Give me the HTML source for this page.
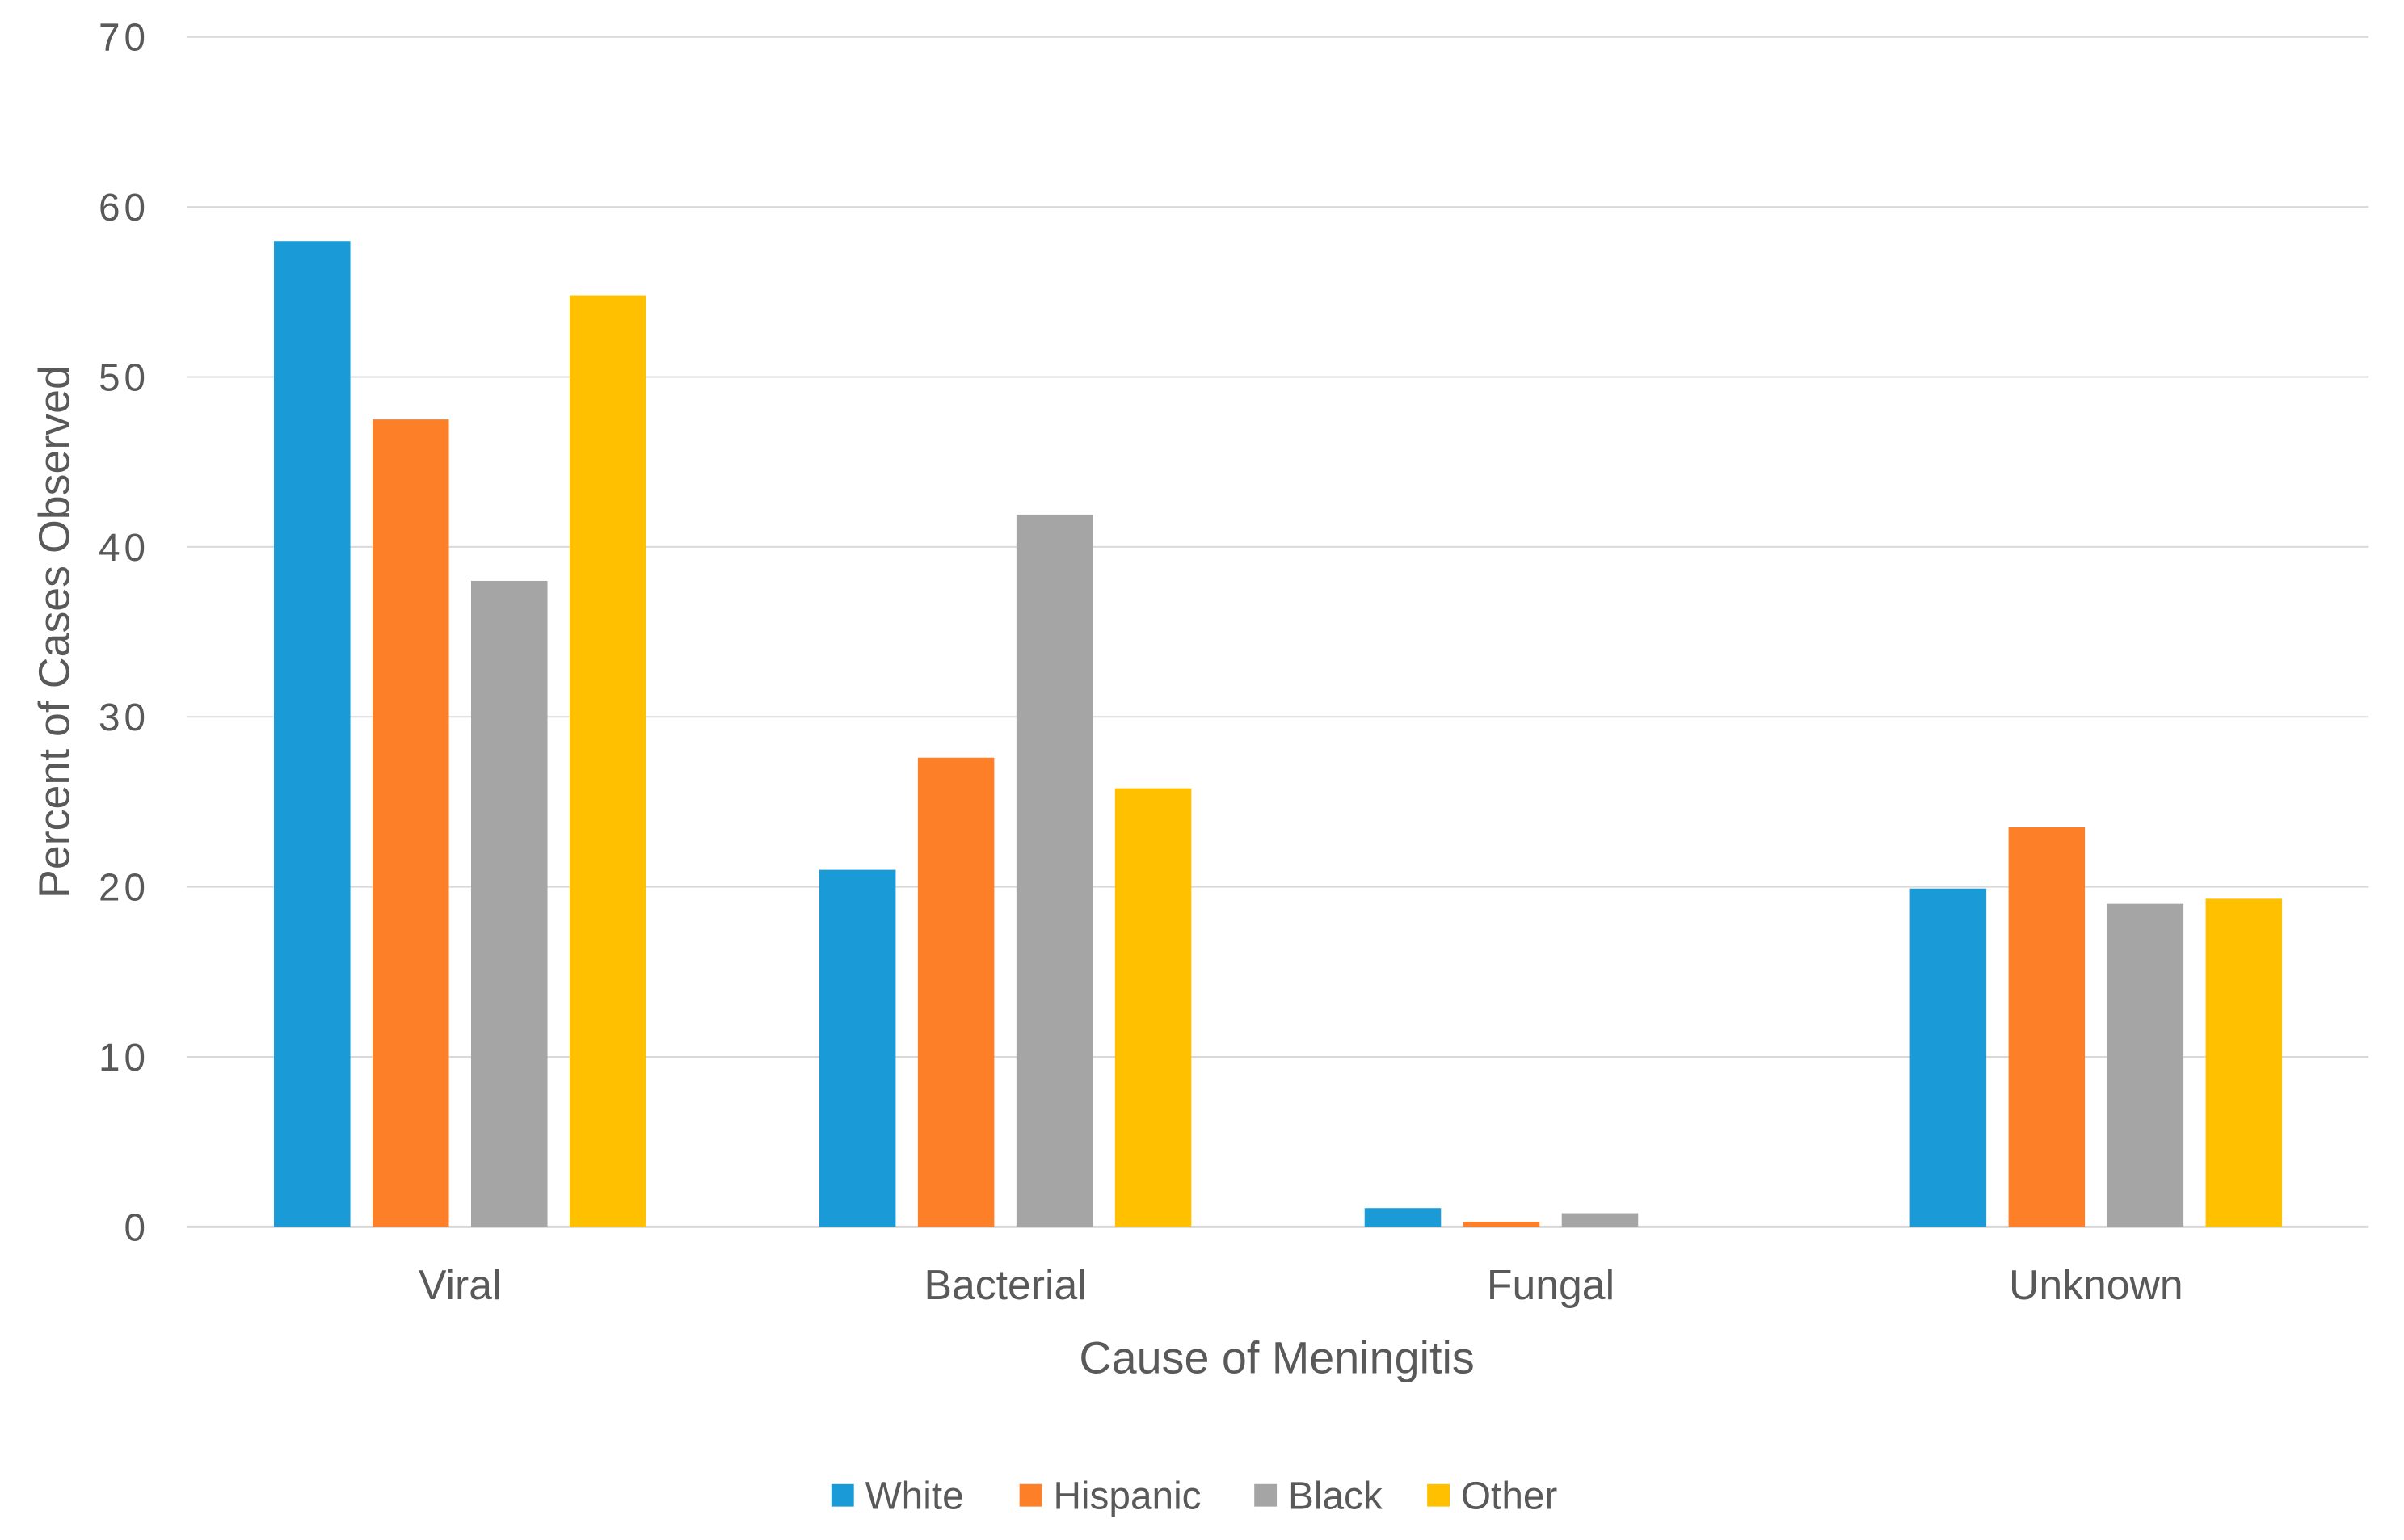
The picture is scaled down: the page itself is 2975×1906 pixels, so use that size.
<!DOCTYPE html>
<html><head><meta charset="utf-8"><style>
html,body{margin:0;padding:0;background:#fff;}
svg{display:block;}
text{font-family:"Liberation Sans",sans-serif;fill:#595959;}
</style></head><body>
<svg id="chart" width="2975" height="1906" viewBox="0 0 2975 1906" xmlns="http://www.w3.org/2000/svg">
<g transform="scale(0.995)">
<g id="grid"></g>
<g id="yticks"></g>
<g id="bars"></g>
<g id="xlabels"></g>
<text x="0" y="0" transform="translate(86,786) rotate(-90)" text-anchor="middle" font-size="54">Percent of Cases Observed</text>
<text x="1588" y="1708" text-anchor="middle" font-size="56">Cause of Meningitis</text>
<g id="legend"></g>
</g>
</svg>
<script>
const categories = ["Viral","Bacterial","Fungal","Unknown"];
const seriesNames = ["White","Hispanic","Black","Other"];
const white = [58, 21, 1.1, 19.9];
const hispanic = [47.5, 27.6, 0.3, 23.5];
const black = [38, 41.9, 0.8, 19];
const other = [54.8, 25.8, 0, 19.3];
const yTicks = [0,10,20,30,40,50,60,70];

const series = [white, hispanic, black, other];
const colors = ["#1a9bd7","#fd7f27","#a5a5a5","#ffc000"];
const NS = "http://www.w3.org/2000/svg";
const plotL = 233, plotR = 2946, y0 = 1526, y70 = 46;
function yScale(v){ return y0 - (v/70)*(y0-y70); }
const catW = (plotR-plotL)/categories.length;
function xCenter(i){ return plotL + catW*(i+0.5); }
const barW = 95, pitch = 122.6;

const grid = document.getElementById('grid');
const yt = document.getElementById('yticks');
yTicks.forEach(t=>{
  const l = document.createElementNS(NS,'line');
  
  
  l.setAttribute('x1',plotL); l.setAttribute('x2',plotR);
  l.setAttribute('y1',yScale(t)); l.setAttribute('y2',yScale(t));
  l.setAttribute('stroke','#d9d9d9'); l.setAttribute('stroke-width', t===0?3:2);
  grid.appendChild(l);
  const tx = document.createElementNS(NS,'text');
  
  
  tx.setAttribute('x',186); tx.setAttribute('y',yScale(t)+17);
  tx.setAttribute('text-anchor','end'); tx.setAttribute('font-size','48');
  tx.setAttribute('letter-spacing','5');
  tx.textContent = t;
  yt.appendChild(tx);
});

const bars = document.getElementById('bars');
const xl = document.getElementById('xlabels');
categories.forEach((c,i)=>{
  series.forEach((s,j)=>{
    const cx = xCenter(i) + (j-1.5)*pitch;
    const r = document.createElementNS(NS,'rect');
    
    
    r.setAttribute('x',cx-barW/2); r.setAttribute('width',barW);
    r.setAttribute('y',yScale(s[i])); r.setAttribute('height',y0-yScale(s[i]));
    r.setAttribute('fill',colors[j]);
    bars.appendChild(r);
  });
  const tx = document.createElementNS(NS,'text');
  
  
  tx.setAttribute('x',xCenter(i)); tx.setAttribute('y',1616);
  tx.setAttribute('text-anchor','middle'); tx.setAttribute('font-size','52');
  tx.textContent = c;
  xl.appendChild(tx);
});

const lg = document.getElementById('legend');
const legX = [1034, 1268, 1560, 1775];
seriesNames.forEach((n,j)=>{
  const r = document.createElementNS(NS,'rect');
  
  
  r.setAttribute('x',legX[j]); r.setAttribute('y',1846);
  r.setAttribute('width',28); r.setAttribute('height',28);
  r.setAttribute('fill',colors[j]);
  lg.appendChild(r);
  const tx = document.createElementNS(NS,'text');
  
  
  tx.setAttribute('x',legX[j]+42); tx.setAttribute('y',1877);
  tx.setAttribute('font-size','48');
  tx.textContent = n;
  lg.appendChild(tx);
});
</script>
</body></html>
